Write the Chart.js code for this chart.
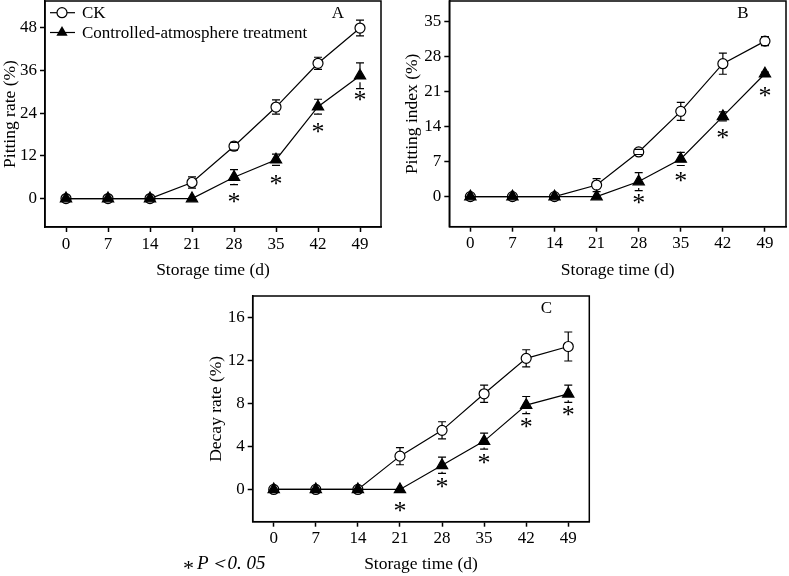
<!DOCTYPE html>
<html>
<head>
<meta charset="utf-8">
<script src="https://cdn.jsdelivr.net/npm/chart.js@4.4.1/dist/chart.umd.min.js"></script>
<style>
  html, body { margin: 0; padding: 0; background: #fff; }
  body { width: 789px; height: 576px; position: relative; overflow: hidden; }
  canvas { position: absolute; }
</style>
</head>
<body>
<canvas id="chartA" width="390" height="290" style="left:0;top:0"></canvas>
<canvas id="chartB" width="399" height="290" style="left:390px;top:0"></canvas>
<canvas id="chartC" width="440" height="286" style="left:180px;top:290px"></canvas>
<script>
const days = [0, 7, 14, 21, 28, 35, 42, 49];

// A - pitting rate
const ckRate = [0, 0, 0, 4.5, 14.7, 25.7, 38.0, 47.9];
const ckRateErr = [0, 0, 0, 1.6, 1.1, 2.0, 1.7, 2.2];
const caRate = [0, 0, 0, 0, 6.0, 10.9, 25.8, 34.5];
const caRateErr = [0, 0, 0, 0, 2.1, 1.6, 2.1, 3.6];
const starRate = [null, null, null, null, 0.2, 5.2, 19.9, 28.9];
const rateTicks = [0, 12, 24, 36, 48];

// B - pitting index
const ckIndex = [0, 0, 0, 2.3, 8.9, 17.0, 26.5, 31.0];
const ckIndexErr = [0, 0, 0, 1.3, 0.5, 1.8, 2.1, 0.9];
const caIndex = [0, 0, 0, 0, 3.0, 7.5, 16.0, 24.5];
const caIndexErr = [0, 0, 0, 0, 1.8, 1.3, 0.9, 0.3];
const starIndex = [null, null, null, null, -0.5, 3.9, 12.5, 20.8];
const indexTicks = [0, 7, 14, 21, 28, 35];

// C - decay rate
const ckDecay = [0, 0, 0, 3.1, 5.5, 8.9, 12.2, 13.3];
const ckDecayErr = [0, 0, 0, 0.8, 0.8, 0.8, 0.8, 1.35];
const caDecay = [0, 0, 0, 0, 2.25, 4.5, 7.85, 8.9];
const caDecayErr = [0, 0, 0, 0, 0.75, 0.75, 0.8, 0.8];
const starDecay = [null, null, null, -1.6, 0.6, 2.8, 6.2, 7.3];
const decayTicks = [0, 4, 8, 12, 16];

const seriesNames = ['CK', 'Controlled-atmosphere treatment'];

Chart.defaults.font.family = '"Liberation Serif", "Times New Roman", serif';
Chart.defaults.font.size = 17;
Chart.defaults.color = '#000';

function drawMarker(ctx, style, x, y) {
  ctx.beginPath();
  if (style === 'circle') {
    ctx.arc(x, y, 5, 0, Math.PI * 2);
    ctx.fillStyle = '#fff';
    ctx.fill();
    ctx.stroke();
  } else {
    const r = 6.5;
    ctx.moveTo(x, y - r);
    ctx.lineTo(x + r * 0.866, y + r / 2);
    ctx.lineTo(x - r * 0.866, y + r / 2);
    ctx.closePath();
    ctx.fillStyle = '#000';
    ctx.fill();
  }
}

// error bars, asterisks, box, panel letter, legend
const extras = {
  id: 'extras',
  afterDatasetsDraw(chart, args, opts) {
    const ctx = chart.ctx;
    const xs = chart.scales.x, ys = chart.scales.y;
    ctx.save();
    ctx.strokeStyle = '#000';
    ctx.lineWidth = 1.2;
    chart.data.datasets.forEach((ds, i) => {
      const err = opts.errors[i];
      ds.data.forEach((p, j) => {
        if (!err[j]) return;
        const px = xs.getPixelForValue(p.x);
        const py = ys.getPixelForValue(p.y);
        const hi = ys.getPixelForValue(p.y + err[j]);
        const lo = ys.getPixelForValue(p.y - err[j]);
        const r = ds.pointRadius;
        ctx.beginPath();
        if (py - hi > r) { ctx.moveTo(px, hi); ctx.lineTo(px, py - r); }
        if (lo - py > r) { ctx.moveTo(px, py + r); ctx.lineTo(px, lo); }
        ctx.moveTo(px - 4, hi); ctx.lineTo(px + 4, hi);
        ctx.moveTo(px - 4, lo); ctx.lineTo(px + 4, lo);
        ctx.stroke();
      });
    });
    // significance marks
    ctx.fillStyle = '#000';
    ctx.font = '26px "Liberation Serif"';
    ctx.textAlign = 'center';
    ctx.textBaseline = 'alphabetic';
    const m = ctx.measureText('*');
    const shift = (m.actualBoundingBoxAscent - m.actualBoundingBoxDescent) / 2;
    opts.stars.forEach((v, j) => {
      if (v === null) return;
      ctx.fillText('*', xs.getPixelForValue(days[j]), ys.getPixelForValue(v) + shift);
    });
    ctx.restore();
  },
  afterDraw(chart, args, opts) {
    const ctx = chart.ctx;
    const a = chart.chartArea;
    ctx.save();
    ctx.strokeStyle = '#000';
    ctx.lineWidth = 1.5;
    ctx.strokeRect(a.left, a.top, a.right - a.left, a.bottom - a.top);
    ctx.fillStyle = '#000';
    ctx.font = '17px "Liberation Serif"';
    ctx.textAlign = 'center';
    ctx.textBaseline = 'middle';
    ctx.fillText(opts.letter, a.right - 43, a.top + 13);
    if (opts.legend) {
      const rows = [12.7, 32.5];
      const styles = ['circle', 'triangle'];
      ctx.lineWidth = 1.2;
      rows.forEach((ry, i) => {
        ctx.beginPath();
        ctx.moveTo(50, ry); ctx.lineTo(75, ry);
        ctx.stroke();
        drawMarker(ctx, styles[i], 62, ry);
        ctx.fillStyle = '#000';
        ctx.textAlign = 'left';
        ctx.fillText(seriesNames[i], 82, ry + 1);
      });
    }
    if (opts.note) {
      ctx.textAlign = 'left';
      ctx.textBaseline = 'middle';
      ctx.font = '22px "Liberation Serif"';
      ctx.fillText('*', 3, 279);
      ctx.font = 'italic 19px "Liberation Serif"';
      ctx.fillText('P\uFF1C0. 05', 17, 274);
    }
    ctx.restore();
  }
};

function makeChart(id, ck, ca, yMin, yMax, yTicks, yTitle, lay, extra) {
  const line = { borderColor: '#000', borderWidth: 1.2, tension: 0, pointBorderColor: '#000', pointBorderWidth: 1.2 };
  return new Chart(document.getElementById(id), {
    type: 'line',
    data: {
      datasets: [
        Object.assign({
          label: seriesNames[0],
          data: days.map((d, i) => ({ x: d, y: ck[i] })),
          pointStyle: 'circle', pointRadius: 5, pointBackgroundColor: '#fff', order: 2
        }, line),
        Object.assign({
          label: seriesNames[1],
          data: days.map((d, i) => ({ x: d, y: ca[i] })),
          pointStyle: 'triangle', pointRadius: 6.5, pointBackgroundColor: '#000', order: 1
        }, line)
      ]
    },
    options: {
      responsive: false,
      animation: false,
      layout: { padding: lay.pad, autoPadding: false },
      plugins: { legend: { display: false }, tooltip: { enabled: false }, extras: extra },
      scales: {
        x: {
          type: 'linear', min: -3.5, max: 52.5,
          afterBuildTicks: s => { s.ticks = days.map(v => ({ value: v })); },
          afterFit: s => { s.height = lay.xh; s.paddingLeft = 0; s.paddingRight = 0; },
          grid: { drawOnChartArea: false, tickLength: 5, tickColor: '#000', tickWidth: 1.5 },
          border: { color: '#000', width: 1.5 },
          ticks: { padding: 2, maxRotation: 0, font: { size: 17 } },
          title: { display: true, text: 'Storage time (d)', padding: { top: 0, bottom: lay.xtb }, font: { size: 17.5 } }
        },
        y: {
          min: yMin, max: yMax,
          afterBuildTicks: s => { s.ticks = yTicks.map(v => ({ value: v })); },
          afterFit: s => { s.width = lay.yw; s.paddingTop = 0; s.paddingBottom = 0; },
          grid: { drawOnChartArea: false, tickLength: 5, tickColor: '#000', tickWidth: 1.5 },
          border: { color: '#000', width: 1.5 },
          ticks: { padding: 3, font: { size: 17 } },
          title: { display: true, text: yTitle, padding: { top: 0, bottom: 0 }, font: { size: 17.5 } }
        }
      }
    },
    plugins: [extras]
  });
}

makeChart('chartA', ckRate, caRate, -8, 55.5, rateTicks, 'Pitting rate (%)',
  { pad: { left: 0, top: 1, right: 9, bottom: 0 }, yw: 45, xh: 63, xtb: 9 },
  { errors: [ckRateErr, caRateErr], stars: starRate, letter: 'A', legend: true });

makeChart('chartB', ckIndex, caIndex, -6, 39, indexTicks, 'Pitting index (%)',
  { pad: { left: 12, top: 1, right: 3, bottom: 0 }, yw: 47.3, xh: 63.3, xtb: 9 },
  { errors: [ckIndexErr, caIndexErr], stars: starIndex, letter: 'B' });

makeChart('chartC', ckDecay, caDecay, -3, 18, decayTicks, 'Decay rate (%)',
  { pad: { left: 26, top: 6, right: 30.7, bottom: 0 }, yw: 46.7, xh: 54.3, xtb: 1 },
  { errors: [ckDecayErr, caDecayErr], stars: starDecay, letter: 'C', note: true });
</script>
</body>
</html>
